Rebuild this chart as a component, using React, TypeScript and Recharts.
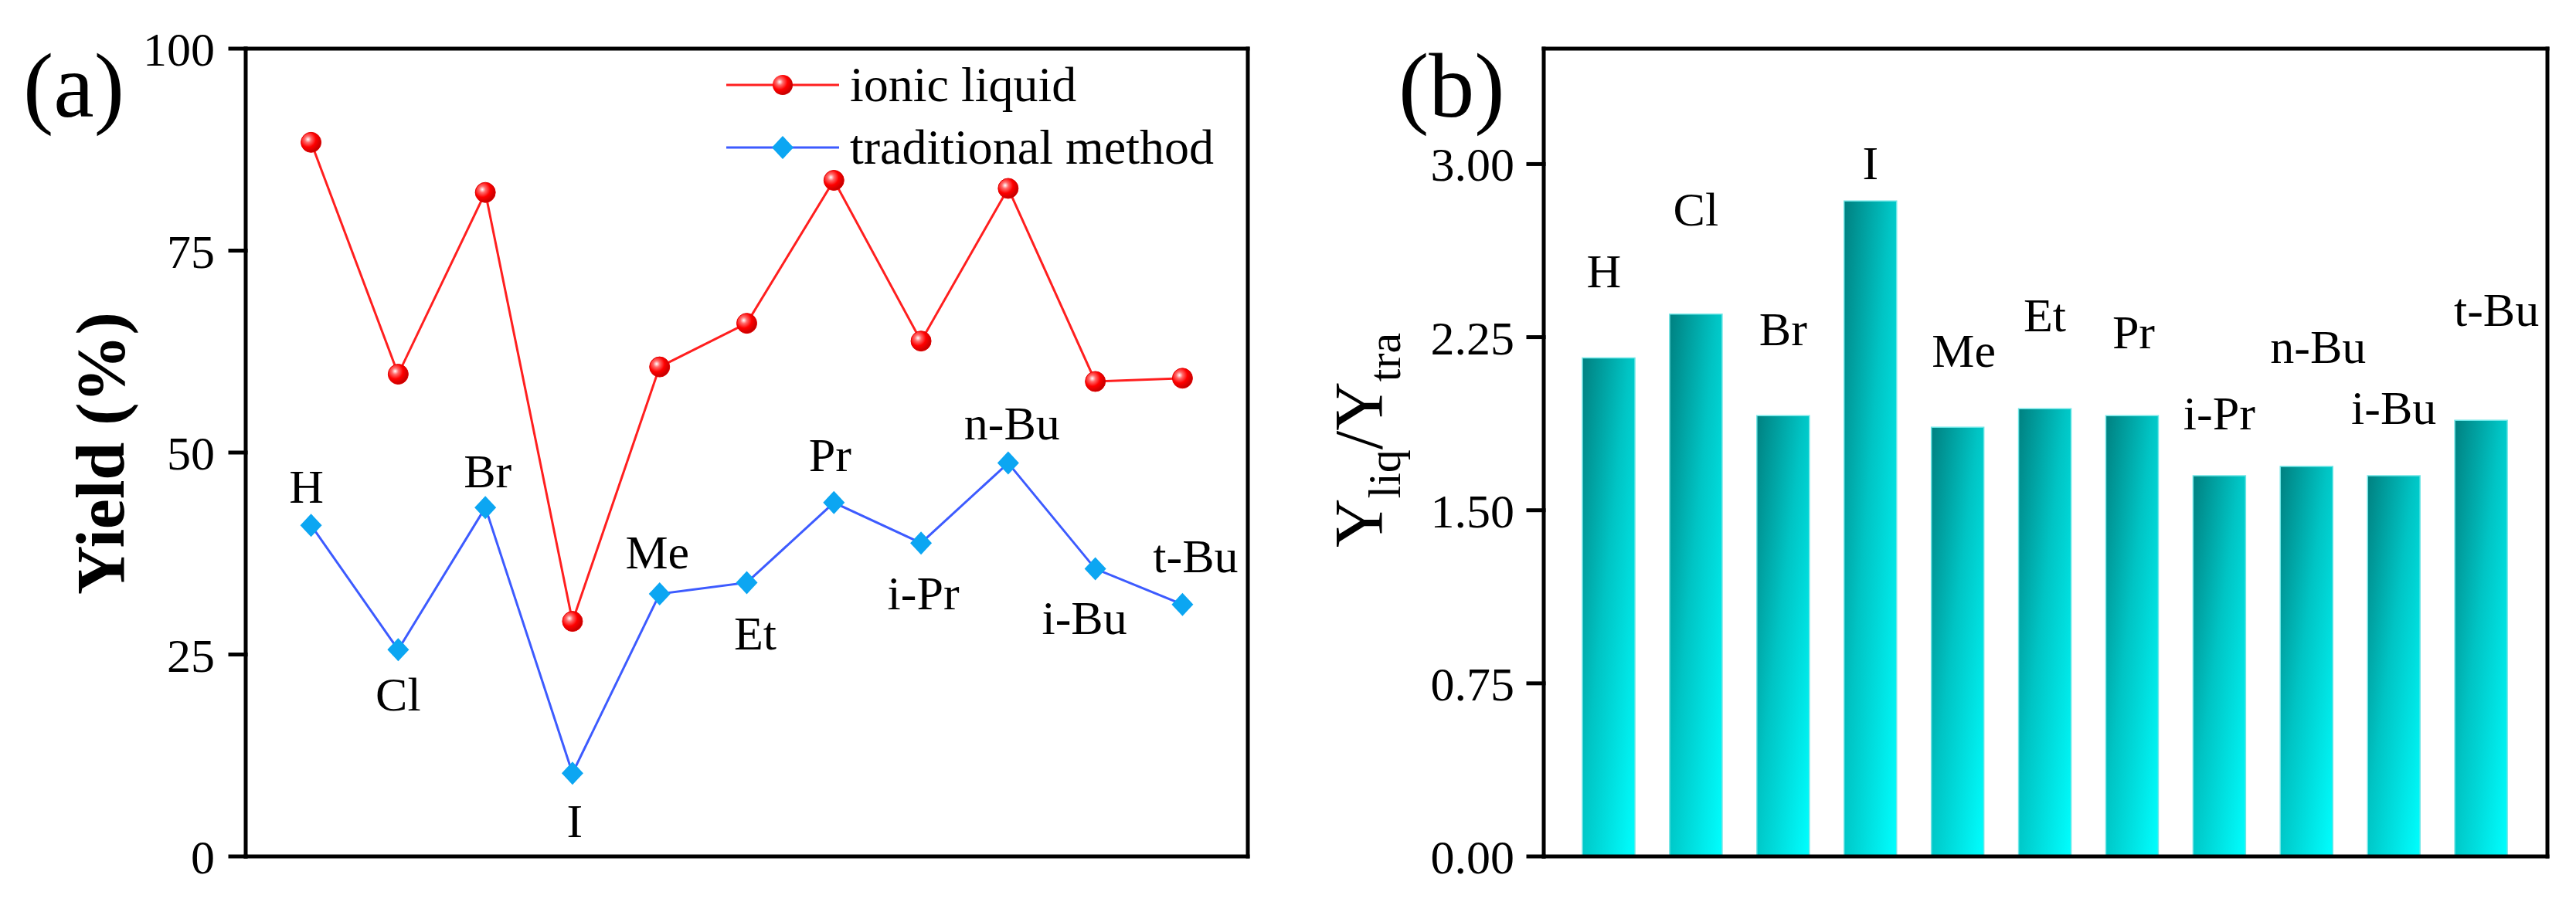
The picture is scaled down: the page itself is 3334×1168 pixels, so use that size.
import React from "react";
import { LineChart, Line, BarChart, Bar, XAxis, YAxis, Legend } from "recharts";

const categories = ["H", "Cl", "Br", "I", "Me", "Et", "Pr", "i-Pr", "n-Bu", "i-Bu", "t-Bu"];
const ionicLiquid = [88.4, 59.7, 82.2, 29.1, 60.6, 66.0, 83.7, 63.8, 82.7, 58.8, 59.2];
const traditional = [41.0, 25.6, 43.2, 10.3, 32.5, 33.9, 43.8, 38.8, 48.7, 35.6, 31.2];
const yieldRatio = [2.16, 2.35, 1.91, 2.84, 1.86, 1.94, 1.91, 1.65, 1.69, 1.65, 1.89];
const yieldTicks = [0, 25, 50, 75, 100];
const ratioTicks = [0, 0.75, 1.5, 2.25, 3];

// where each name sits relative to its point / bar top (px)
const lineLabelOffsets = [
  [-6, -50], [0, 58], [3, -47], [3, 62], [-3, -54], [11, 66],
  [-5, -62], [3, 65], [5, -52], [-14, 63], [17, -63],
];
const barLabelOffsets = [
  [-6, -112], [0, -136], [0, -112], [0, -49], [8, -99], [0, -121],
  [2, -108], [0, -81], [15, -155], [0, -88], [20, -143],
];

const FONT = '"Liberation Serif", "Times New Roman", serif';
const AXIS = { stroke: "#000", strokeWidth: 5, strokeLinecap: "square" as const };
const RED = "#ff1f1f";
const BLUE_LINE = "#3d5bff";
const BLUE_DOT = "#0ca6f2";

const lineData = categories.map((name, i) => ({
  idx: i + 1,
  name,
  ionic: ionicLiquid[i],
  trad: traditional[i],
}));

const barData = categories.map((name, i) => ({ name, ratio: yieldRatio[i] }));

const RedDot = (props: any) => {
  const { cx, cy, index } = props;
  if (cx == null || cy == null) return null;
  return <circle key={`r-${index}`} cx={cx} cy={cy} r={13} fill="url(#redBall)" stroke="#e00000" strokeWidth={1} />;
};

const BlueDot = (props: any) => {
  const { cx, cy, index } = props;
  if (cx == null || cy == null) return null;
  return (
    <polygon
      key={`b-${index}`}
      points={`${cx},${cy - 15} ${cx + 14},${cy} ${cx},${cy + 15} ${cx - 14},${cy}`}
      fill={BLUE_DOT}
    />
  );
};

const PointLabel = (props: any) => {
  const { x, y, index } = props;
  const [dx, dy] = lineLabelOffsets[index] || [0, -50];
  return (
    <text
      key={`pl-${index}`}
      x={x + dx}
      y={y + dy}
      textAnchor="middle"
      dominantBaseline="central"
      fontSize={62}
      fontFamily={FONT}
      fill="#000"
    >
      {categories[index]}
    </text>
  );
};

const BarLabel = (props: any) => {
  const { x, y, width, index } = props;
  const [dx, dy] = barLabelOffsets[index] || [0, -100];
  return (
    <text
      key={`bl-${index}`}
      x={x + width / 2 + dx}
      y={y + dy}
      textAnchor="middle"
      dominantBaseline="central"
      fontSize={62}
      fontFamily={FONT}
      fill="#000"
    >
      {categories[index]}
    </text>
  );
};

const LegendBox = () => (
  <div style={{ fontFamily: FONT, fontSize: 64, color: "#000", lineHeight: 1 }}>
    <div style={{ display: "flex", alignItems: "center", height: 81 }}>
      <svg width={146} height={40}>
        <defs>
          <radialGradient id="redBallLegend" cx="35%" cy="35%" r="65%">
            <stop offset="0%" stopColor="#ffffff" />
            <stop offset="25%" stopColor="#ff6a6a" />
            <stop offset="60%" stopColor="#ff0000" />
            <stop offset="100%" stopColor="#c80000" />
          </radialGradient>
        </defs>
        <line x1={0} y1={20} x2={146} y2={20} stroke={RED} strokeWidth={3} />
        <circle cx={73} cy={20} r={13} fill="url(#redBallLegend)" />
      </svg>
      <span style={{ marginLeft: 14 }}>ionic liquid</span>
    </div>
    <div style={{ display: "flex", alignItems: "center", height: 81 }}>
      <svg width={146} height={40}>
        <line x1={0} y1={20} x2={146} y2={20} stroke={BLUE_LINE} strokeWidth={3} />
        <polygon points="73,5 87,20 73,35 59,20" fill={BLUE_DOT} />
      </svg>
      <span style={{ marginLeft: 14 }}>traditional method</span>
    </div>
  </div>
);

const YieldChart = () => (
  <LineChart
    width={1700}
    height={1168}
    data={lineData}
    margin={{ top: 62, right: 84, bottom: 58, left: 0 }}
  >
    <defs>
      <radialGradient id="redBall" cx="35%" cy="35%" r="65%">
        <stop offset="0%" stopColor="#ffffff" />
        <stop offset="25%" stopColor="#ff6a6a" />
        <stop offset="60%" stopColor="#ff0000" />
        <stop offset="100%" stopColor="#c80000" />
      </radialGradient>
    </defs>
    <XAxis
      dataKey="idx"
      type="number"
      domain={[0.25, 11.75]}
      allowDataOverflow
      tick={false}
      tickLine={false}
      axisLine={AXIS}
      height={1}
    />
    <XAxis xAxisId="top" orientation="top" type="number" domain={[0, 1]} tick={false} tickLine={false} axisLine={AXIS} height={1} />
    <YAxis
      domain={[0, 100]}
      ticks={yieldTicks}
      width={318}
      tickSize={20}
      tickMargin={20}
      tickLine={AXIS}
      axisLine={AXIS}
      tick={{ fill: "#000", fontSize: 62, fontFamily: FONT }}
      label={{
        content: () => (
          <g>
            <text
              x={160}
              y={587}
              transform="rotate(-90 160 587)"
              textAnchor="middle"
              fontSize={88}
              fontWeight="bold"
              fontFamily={FONT}
              fill="#000"
            >
              Yield (%)
            </text>
            <text x={30} y={151} fontSize={118} fontFamily={FONT} fill="#000">
              (a)
            </text>
          </g>
        ),
      }}
    />
    <YAxis yAxisId="right" orientation="right" domain={[0, 1]} tick={false} tickLine={false} axisLine={AXIS} width={1} />
    <Legend
      layout="vertical"
      align="center"
      verticalAlign="middle"
      content={LegendBox}
      wrapperStyle={{ left: 940, top: 69, width: 700, height: 170 }}
    />
    <Line
      type="linear"
      dataKey="ionic"
      stroke={RED}
      strokeWidth={3}
      dot={RedDot}
      activeDot={false}
      isAnimationActive={false}
    />
    <Line
      type="linear"
      dataKey="trad"
      stroke={BLUE_LINE}
      strokeWidth={3}
      dot={BlueDot}
      activeDot={false}
      label={PointLabel}
      isAnimationActive={false}
    />
  </LineChart>
);

const RatioChart = () => (
  <BarChart
    width={1634}
    height={1168}
    data={barData}
    margin={{ top: 62, right: 36, bottom: 58, left: 0 }}
  >
    <defs>
      <linearGradient id="barGrad" x1="0" y1="0" x2="1" y2="1">
        <stop offset="0%" stopColor="#008080" />
        <stop offset="45%" stopColor="#00c4c4" />
        <stop offset="100%" stopColor="#00ffff" />
      </linearGradient>
    </defs>
    <XAxis
      dataKey="name"
      tick={false}
      tickLine={false}
      axisLine={AXIS}
      height={1}
      padding={{ left: 28, right: 29 }}
    />
    <XAxis xAxisId="top" orientation="top" type="number" domain={[0, 1]} tick={false} tickLine={false} axisLine={AXIS} height={1} />
    <YAxis
      domain={[0, 3.5]}
      ticks={ratioTicks}
      width={298}
      tickSize={20}
      tickMargin={18}
      tickLine={AXIS}
      axisLine={AXIS}
      tickFormatter={(v: number) => v.toFixed(2)}
      tick={{ fill: "#000", fontSize: 62, fontFamily: FONT }}
      label={{
        content: () => (
          <g>
            <text
              x={88}
              y={570}
              transform="rotate(-90 88 570)"
              textAnchor="middle"
              fontSize={88}
              fontFamily={FONT}
              fill="#000"
            >
              Y
              <tspan fontSize={60} dy={24}>liq</tspan>
              <tspan dy={-24}>/Y</tspan>
              <tspan fontSize={60} dy={24}>tra</tspan>
            </text>
            <text x={110} y={151} fontSize={118} fontFamily={FONT} fill="#000">
              (b)
            </text>
          </g>
        ),
      }}
    />
    <YAxis yAxisId="right" orientation="right" domain={[0, 1]} tick={false} tickLine={false} axisLine={AXIS} width={1} />
    <Bar
      dataKey="ratio"
      barSize={68}
      fill="url(#barGrad)"
      stroke="#6fe6e6"
      strokeWidth={1.5}
      label={BarLabel}
      isAnimationActive={false}
    />
  </BarChart>
);

export default function App() {
  return (
    <div style={{ position: "relative", width: 3334, height: 1168, background: "#fff" }}>
      <style>{"body{margin:0;background:#fff}"}</style>
      <div style={{ position: "absolute", left: 0, top: 0 }}>
        <YieldChart />
      </div>
      <div style={{ position: "absolute", left: 1700, top: 0 }}>
        <RatioChart />
      </div>
    </div>
  );
}
